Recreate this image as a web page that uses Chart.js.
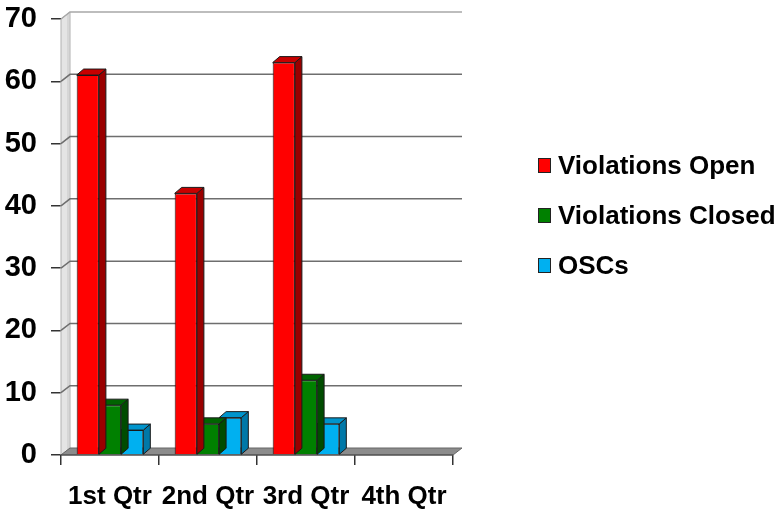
<!DOCTYPE html>
<html>
<head>
<meta charset="utf-8">
<script src="https://cdn.jsdelivr.net/npm/chart.js@4/dist/chart.umd.min.js"></script>
<style>
  html, body { margin: 0; padding: 0; background: #fff; }
  #wrap { position: relative; width: 774px; height: 511px; }
  #c { position: absolute; left: 0; top: 0; }
  #legend { position: absolute; left: 538px; top: 140px; font-family: "Liberation Sans", Arial, sans-serif; font-weight: bold; font-size: 26px; color: #000; }
  .item { display: flex; align-items: center; height: 50px; white-space: nowrap; }
  .sw { width: 13px; height: 15px; border: 1px solid #222; margin-right: 7px; box-sizing: border-box; }
</style>
</head>
<body>
<div id="wrap">
  <canvas id="c" width="774" height="511"></canvas>
  <div id="legend"></div>
</div>
<script>
const categories = ["1st Qtr", "2nd Qtr", "3rd Qtr", "4th Qtr"];
const seriesNames = ["Violations Open", "Violations Closed", "OSCs"];
const violationsOpen = [61, 42, 63, null];
const violationsClosed = [8, 5, 12, null];
const oscs = [4, 6, 5, null];
const yTicks = [0, 10, 20, 30, 40, 50, 60, 70];

const frontColors = ["#ff0000", "#008000", "#00b0f0"];
const sideColors = ["#990000", "#004c00", "#0078a8"];
const topColors = ["#c80000", "#006400", "#0094cc"];

const WALL = { dx: 9, dy: 7 };
const BAR = { dx: 7, dy: 6 };

const threeD = {
  id: "threeD",
  beforeDatasetsDraw(chart) {
    const ctx = chart.ctx, a = chart.chartArea, ys = chart.scales.y;
    const L = a.left, R = a.right, B = ys.getPixelForValue(0), T = ys.getPixelForValue(70);
    ctx.save();
    // left wall
    ctx.beginPath();
    ctx.moveTo(L, T); ctx.lineTo(L + WALL.dx, T - WALL.dy);
    ctx.lineTo(L + WALL.dx, B - WALL.dy); ctx.lineTo(L, B); ctx.closePath();
    ctx.fillStyle = "#e4e4e4"; ctx.fill();
    ctx.strokeStyle = "#b0b0b0"; ctx.lineWidth = 1; ctx.stroke();
    ctx.beginPath(); ctx.moveTo(L + WALL.dx - 2, T - WALL.dy + 2); ctx.lineTo(L + WALL.dx - 2, B - WALL.dy + 2);
    ctx.strokeStyle = "#c8c8c8"; ctx.stroke();
    // gridlines on back wall + connectors on side wall
    yTicks.forEach(v => {
      if (v === 0) return;
      const y = ys.getPixelForValue(v);
      ctx.beginPath();
      ctx.moveTo(L, y);
      ctx.lineTo(L + WALL.dx, y - WALL.dy);
      ctx.lineTo(R + WALL.dx, y - WALL.dy);
      ctx.strokeStyle = v === 70 ? "#a8a8a8" : "#6e6e6e";
      ctx.lineWidth = 1.5;
      ctx.stroke();
    });
    // floor
    ctx.beginPath();
    ctx.moveTo(L, B); ctx.lineTo(R, B);
    ctx.lineTo(R + WALL.dx, B - WALL.dy); ctx.lineTo(L + WALL.dx, B - WALL.dy); ctx.closePath();
    ctx.fillStyle = "#8c8c8c"; ctx.fill();
    ctx.strokeStyle = "#666"; ctx.lineWidth = 1; ctx.stroke();
    ctx.beginPath(); ctx.moveTo(L, B); ctx.lineTo(R, B);
    ctx.strokeStyle = "#444"; ctx.stroke();
    ctx.restore();
  },
  afterDatasetDraw(chart, args) {
    const ctx = chart.ctx, i = args.index, meta = args.meta;
    ctx.save();
    ctx.lineWidth = 1;
    ctx.strokeStyle = "#1a1a1a";
    meta.data.forEach((el, j) => {
      const v = chart.data.datasets[i].data[j];
      if (v === null || v === undefined) return;
      const p = el.getProps(["x", "y", "base", "width"], true);
      const l = p.x - p.width / 2, r = p.x + p.width / 2, t = p.y, b = p.base;
      // side face
      ctx.beginPath();
      ctx.moveTo(r, t); ctx.lineTo(r + BAR.dx, t - BAR.dy);
      ctx.lineTo(r + BAR.dx, b - BAR.dy); ctx.lineTo(r, b); ctx.closePath();
      ctx.fillStyle = sideColors[i]; ctx.fill(); ctx.stroke();
      // top face
      ctx.beginPath();
      ctx.moveTo(l, t); ctx.lineTo(l + BAR.dx, t - BAR.dy);
      ctx.lineTo(r + BAR.dx, t - BAR.dy); ctx.lineTo(r, t); ctx.closePath();
      ctx.fillStyle = topColors[i]; ctx.fill(); ctx.stroke();
    });
    ctx.restore();
  }
};

const seriesData = [violationsOpen, violationsClosed, oscs];

new Chart(document.getElementById("c"), {
  type: "bar",
  data: {
    labels: categories,
    datasets: seriesNames.map((name, i) => ({
      label: name,
      data: seriesData[i],
      backgroundColor: frontColors[i],
      borderColor: "#1a1a1a",
      borderWidth: 1,
      categoryPercentage: 0.68,
      barPercentage: 1.0
    }))
  },
  options: {
    responsive: false,
    animation: false,
    layout: { padding: { top: 19, right: 321, left: 0, bottom: 0 } },
    plugins: { legend: { display: false }, tooltip: { enabled: false } },
    scales: {
      x: {
        offset: true,
        grid: { display: true, offset: true, drawOnChartArea: false, tickLength: 10, color: "#333", lineWidth: 1.5 },
        border: { display: false },
        ticks: { color: "#000", font: { family: "'Liberation Sans', Arial, sans-serif", weight: "bold", size: 26 }, padding: 16, maxRotation: 0 },
        afterFit(s) { s.height = 56; s.paddingLeft = 0; s.paddingRight = 0; }
      },
      y: {
        min: 0, max: 70,
        afterBuildTicks(s) { s.ticks = yTicks.map(v => ({ value: v })); },
        grid: { display: true, drawOnChartArea: false, tickLength: 10, color: "#333", lineWidth: 1.5 },
        border: { display: true, color: "#888", width: 1 },
        ticks: { color: "#000", font: { family: "'Liberation Sans', Arial, sans-serif", weight: "bold", size: 29 }, padding: 14 },
        afterFit(s) { s.width = 61; s.paddingTop = 0; s.paddingBottom = 0; }
      }
    }
  },
  plugins: [threeD]
});

const lg = document.getElementById("legend");
seriesNames.forEach((n, i) => {
  const d = document.createElement("div"); d.className = "item";
  const s = document.createElement("span"); s.className = "sw"; s.style.background = frontColors[i];
  const t = document.createElement("span"); t.textContent = n;
  d.appendChild(s); d.appendChild(t); lg.appendChild(d);
});
</script>
</body>
</html>
